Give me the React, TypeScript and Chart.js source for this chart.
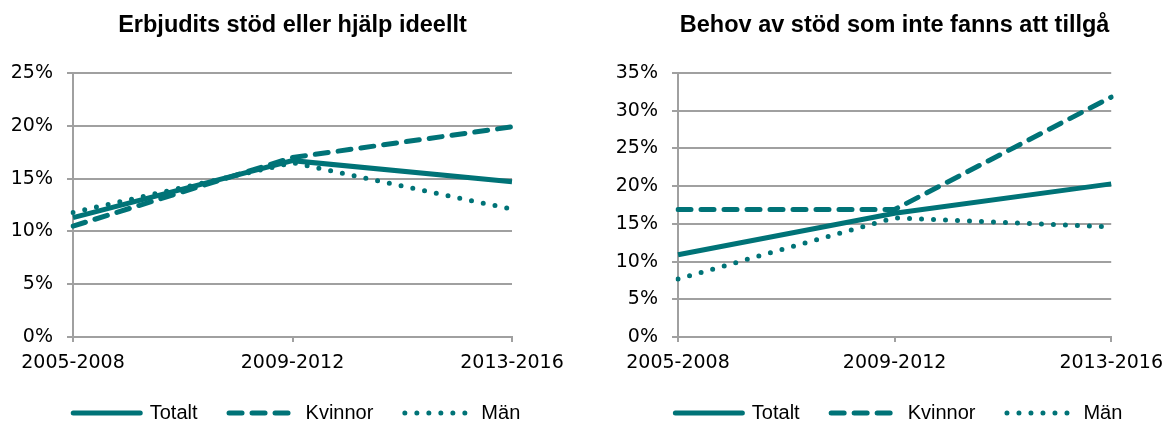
import React, { useEffect, useRef } from 'react';
import { Chart, registerables } from 'chart.js';

Chart.register(...registerables);

// ---- Data ----
const categories = ['2005-2008', '2009-2012', '2013-2016'];
const seriesNames = ['Totalt', 'Kvinnor', 'Män'];

const leftTitle = 'Erbjudits stöd eller hjälp ideellt';
const leftTotalt = [11.3, 16.7, 14.7];
const leftKvinnor = [10.5, 17.0, 19.9];
const leftMan = [11.8, 16.5, 12.1];
const leftMax = 25;

const rightTitle = 'Behov av stöd som inte fanns att tillgå';
const rightTotalt = [10.9, 16.4, 20.3];
const rightKvinnor = [16.9, 16.9, 31.8];
const rightMan = [7.7, 15.8, 14.6];
const rightMax = 35;

const tickStep = 5;

// ---- Styles ----
const TEAL = '#007377';
const GRID = '#A0A0A0';
const TICK_FONT = { family: 'DejaVu Sans', size: 19, lineHeight: 1.2 };
const TITLE_FONT = { family: 'Liberation Sans', size: 23.5, weight: 'bold', lineHeight: 1.2 };
const LEGEND_FONT = '20px "Liberation Sans"';

const seriesStyles = [
  { dash: [], cap: 'butt' },
  { dash: [13, 10], cap: 'round' },
  { dash: [0, 12], cap: 'round' },
];

const legendPlugin = {
  id: 'customLegend',
  afterDraw(chart: any) {
    const { ctx, chartArea } = chart;
    const sym = 72;
    const gap = 7;
    const itemGap = 29;
    ctx.save();
    ctx.font = LEGEND_FONT;
    const items = chart.data.datasets.map((ds: any) => ({ ds, w: ctx.measureText(ds.label).width }));
    const total =
      items.reduce((s: number, it: any) => s + sym + gap + it.w, 0) + itemGap * (items.length - 1);
    let x = (chartArea.left + chartArea.right) / 2 + 3 - total / 2;
    const y = chartArea.bottom + 76;
    items.forEach(({ ds, w }: any) => {
      ctx.beginPath();
      ctx.strokeStyle = ds.borderColor;
      ctx.lineWidth = ds.borderWidth;
      ctx.setLineDash(ds.borderDash || []);
      ctx.lineCap = 'round';
      ctx.moveTo(x + 2.5, y);
      ctx.lineTo(x + sym - 2.5, y);
      ctx.stroke();
      ctx.setLineDash([]);
      ctx.fillStyle = '#000';
      ctx.textBaseline = 'middle';
      ctx.textAlign = 'left';
      ctx.fillText(ds.label, x + sym + gap, y);
      x += sym + gap + w + itemGap;
    });
    ctx.restore();
  },
};

function makeConfig(
  title: string,
  series: number[][],
  max: number,
  axisWidth: number,
  padRight: number
): any {
  return {
    type: 'line',
    data: {
      labels: categories,
      datasets: series.map((vals, i) => ({
        label: seriesNames[i],
        data: vals,
        borderColor: TEAL,
        backgroundColor: TEAL,
        borderWidth: 5,
        borderDash: seriesStyles[i].dash,
        borderCapStyle: seriesStyles[i].cap,
        pointRadius: 0,
        tension: 0,
        fill: false,
      })),
    },
    options: {
      responsive: false,
      maintainAspectRatio: false,
      animation: false,
      layout: { padding: { left: 0, right: padRight, top: 0, bottom: 48 } },
      plugins: {
        legend: { display: false },
        tooltip: { enabled: false },
        title: {
          display: true,
          text: title,
          fullSize: false,
          color: '#000',
          font: TITLE_FONT,
          padding: { top: 11.5, bottom: 33.3 },
        },
      },
      scales: {
        x: {
          grid: {
            display: true,
            drawOnChartArea: false,
            drawTicks: true,
            tickLength: 5,
            color: GRID,
            lineWidth: 2,
          },
          border: { display: true, color: GRID, width: 2 },
          ticks: {
            color: '#000',
            font: TICK_FONT,
            padding: 10,
            maxRotation: 0,
            autoSkip: false,
          },
          afterFit: (s: any) => {
            s.height = 38;
          },
        },
        y: {
          min: 0,
          max,
          grid: { color: GRID, lineWidth: 2, tickLength: 6, drawTicks: true },
          border: { display: true, color: GRID, width: 2 },
          ticks: {
            stepSize: tickStep,
            color: '#000',
            padding: 14,
            font: TICK_FONT,
            callback: (v: any) => v + '%',
          },
          afterFit: (s: any) => {
            s.width = axisWidth;
          },
        },
      },
    },
    plugins: [legendPlugin],
  };
}

function ChartPanel({ config, left, width }: { config: any; left: number; width: number }) {
  const ref = useRef<HTMLCanvasElement | null>(null);
  useEffect(() => {
    if (!ref.current) return;
    const c = new Chart(ref.current, config);
    return () => c.destroy();
  }, []);
  return (
    <canvas
      ref={ref}
      width={width}
      height={423}
      style={{ position: 'absolute', left, top: 0, width, height: 423, display: 'block' }}
    />
  );
}

export default function App() {
  const leftCfg = makeConfig(leftTitle, [leftTotalt, leftKvinnor, leftMan], leftMax, 73, 68);
  const rightCfg = makeConfig(rightTitle, [rightTotalt, rightKvinnor, rightMan], rightMax, 88, 56);
  return (
    <div
      style={{
        position: 'fixed',
        left: 0,
        top: 0,
        width: 1173,
        height: 423,
        background: '#fff',
        overflow: 'hidden',
      }}
    >
      <ChartPanel config={leftCfg} left={0} width={580} />
      <ChartPanel config={rightCfg} left={590} width={583} />
    </div>
  );
}
